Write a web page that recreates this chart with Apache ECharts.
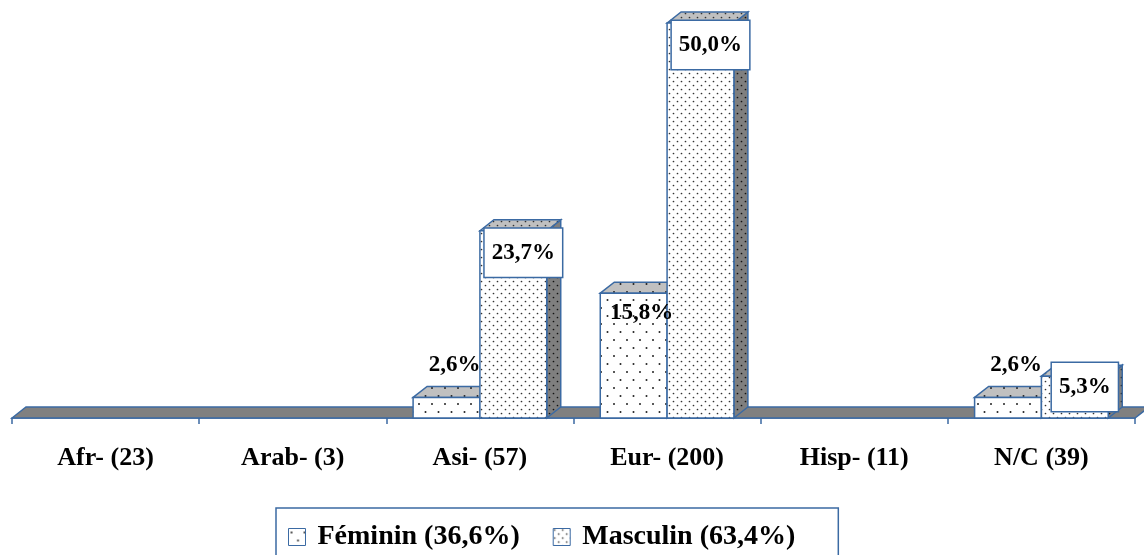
<!DOCTYPE html>
<html>
<head>
<meta charset="utf-8">
<script src="https://cdn.jsdelivr.net/npm/echarts@6/dist/echarts.min.js"></script>
<style>
  html, body { margin: 0; padding: 0; background: #fff; }
  #main { width: 1144px; height: 555px; }
</style>
</head>
<body>
<div id="main"></div>
<script>
// données du graphique
var categories = ['Afr- (23)', 'Arab- (3)', 'Asi- (57)', 'Eur- (200)', 'Hisp- (11)', 'N/C (39)']
var feminin = [0, 0, 2.6, 15.8, 0, 2.6]
var masculin = [0, 0, 23.7, 50.0, 0, 5.3]
var seriesNames = ['Féminin (36,6%)', 'Masculin (63,4%)']

var BLUE = '#3b6aa3'
var FONT = '"Liberation Serif", "DejaVu Serif", serif'
var DX = 14
var DY = -11

// motif à points (canvas)
function dotPattern(bg, w, h, dots, dotColor, r) {
  var c = document.createElement('canvas')
  c.width = w
  c.height = h
  var ctx = c.getContext('2d')
  ctx.fillStyle = bg
  ctx.fillRect(0, 0, w, h)
  ctx.fillStyle = dotColor
  dots.forEach(function (d) {
    ctx.beginPath()
    ctx.arc(d[0], d[1], r, 0, Math.PI * 2)
    ctx.fill()
  })
  return { image: c, repeat: 'repeat' }
}

var patFemFront = dotPattern('#ffffff', 13, 16, [[3, 4], [9.5, 12]], '#222', 1)
var patMasFront = dotPattern('#ffffff', 8, 8, [[1.5, 1.5], [5.5, 5.5]], '#333', 0.85)
var patFemTop = dotPattern('#c0c0c0', 13, 16, [[3, 4], [9.5, 12]], '#222', 1)
var patMasTop = dotPattern('#c0c0c0', 8, 8, [[1.5, 1.5], [5.5, 5.5]], '#333', 0.85)
var patFemSide = dotPattern('#7f7f7f', 13, 16, [[3, 4], [9.5, 12]], '#111', 1)
var patMasSide = dotPattern('#7f7f7f', 8, 8, [[1.5, 1.5], [5.5, 5.5]], '#111', 0.85)

function fmt(v) {
  return v.toFixed(1).replace('.', ',') + '%'
}

// barre 3D : face avant, dessus, côté
function makeBarRender(side) {
  return function (params, api) {
    var v = api.value(1)
    if (!v) return { type: 'group', children: [] }
    var base = api.coord([api.value(0), 0])
    var top = api.coord([api.value(0), v])
    var bandW = api.size([1, 0])[0]
    var w = bandW * 0.357
    var x = side === 0 ? base[0] - w : base[0]
    var y0 = base[1]
    var y1 = top[1]
    var z = side === 0 ? 5 : 10
    var front = side === 0 ? patFemFront : patMasFront
    var topPat = side === 0 ? patFemTop : patMasTop
    var sidePat = side === 0 ? patFemSide : patMasSide
    var line = { stroke: BLUE, lineWidth: 1.5 }
    var children = [
      {
        type: 'polygon', z2: z,
        shape: { points: [[x + w, y1], [x + w + DX, y1 + DY], [x + w + DX, y0 + DY], [x + w, y0]] },
        style: Object.assign({ fill: sidePat }, line)
      },
      {
        type: 'polygon', z2: z,
        shape: { points: [[x, y1], [x + DX, y1 + DY], [x + w + DX, y1 + DY], [x + w, y1]] },
        style: Object.assign({ fill: topPat }, line)
      },
      {
        type: 'rect', z2: z,
        shape: { x: x, y: y1, width: w, height: y0 - y1 },
        style: Object.assign({ fill: front }, line)
      }
    ]
    if (side === 1) {
      var cy = Math.min(y1 + 22, y0 - 31)
      children.push({
        type: 'text', z2: 100,
        x: x + w / 2 + 10, y: cy,
        style: {
          text: fmt(v), font: 'bold 23px ' + FONT, fill: '#000',
          align: 'center', verticalAlign: 'middle',
          backgroundColor: '#fff', borderColor: BLUE, borderWidth: 1.5,
          padding: [13, 7, 12, 7]
        }
      })
    } else {
      var ly = (y0 - y1) > 60 ? y1 + 20 : y1 - 32
      children.push({
        type: 'text', z2: 100,
        x: x + w / 2 + 8, y: ly,
        style: {
          text: fmt(v), font: 'bold 23px ' + FONT, fill: '#000',
          align: 'center', verticalAlign: 'middle'
        }
      })
    }
    return { type: 'group', children: children }
  }
}

// sol gris en perspective
function renderFloor(params, api) {
  var cs = params.coordSys
  var yb = cs.y + cs.height
  return {
    type: 'polygon',
    shape: { points: [[cs.x, yb], [cs.x + DX, yb + DY], [cs.x + cs.width + DX, yb + DY], [cs.x + cs.width, yb]] },
    style: { fill: '#808080', stroke: BLUE, lineWidth: 1.5 }
  }
}

var myChart = echarts.init(document.getElementById('main'))
var option = {
  animation: false,
  grid: { left: 12, right: 9, top: 23, bottom: 137, containLabel: false },
  legend: {
    data: [
      { name: seriesNames[0], icon: 'rect', itemStyle: { color: patFemFront, borderColor: BLUE, borderWidth: 1 } },
      { name: seriesNames[1], icon: 'rect', itemStyle: { color: patMasFront, borderColor: BLUE, borderWidth: 1 } }
    ],
    left: 276,
    top: 508,
    itemWidth: 17,
    itemHeight: 17,
    itemGap: 33,
    padding: [15, 43, 12, 12],
    borderColor: BLUE,
    borderWidth: 1.5,
    textStyle: {
      fontFamily: FONT, fontWeight: 'bold', fontSize: 28, color: '#000',
      padding: [0, 0, 0, 7]
    }
  },
  xAxis: {
    type: 'category',
    data: categories,
    axisLine: { show: true, lineStyle: { color: BLUE, width: 1.5 } },
    axisTick: { show: true, length: 6, lineStyle: { color: BLUE, width: 1.5 } },
    axisLabel: { margin: 27, fontFamily: FONT, fontWeight: 'bold', fontSize: 26, color: '#000' }
  },
  yAxis: {
    type: 'value',
    min: 0,
    max: 50,
    show: false,
    splitLine: { show: false }
  },
  series: [
    {
      name: 'floor', type: 'custom', renderItem: renderFloor,
      data: [[0, 0]], silent: true, clip: false, z: 1
    },
    {
      name: seriesNames[0], type: 'custom', renderItem: makeBarRender(0), clip: false,
      itemStyle: { color: '#fff' },
      data: feminin.map(function (v, i) { return [i, v] })
    },
    {
      name: seriesNames[1], type: 'custom', renderItem: makeBarRender(1), clip: false,
      itemStyle: { color: '#fff' },
      data: masculin.map(function (v, i) { return [i, v] })
    }
  ]
}
myChart.setOption(option)
</script>
</body>
</html>
